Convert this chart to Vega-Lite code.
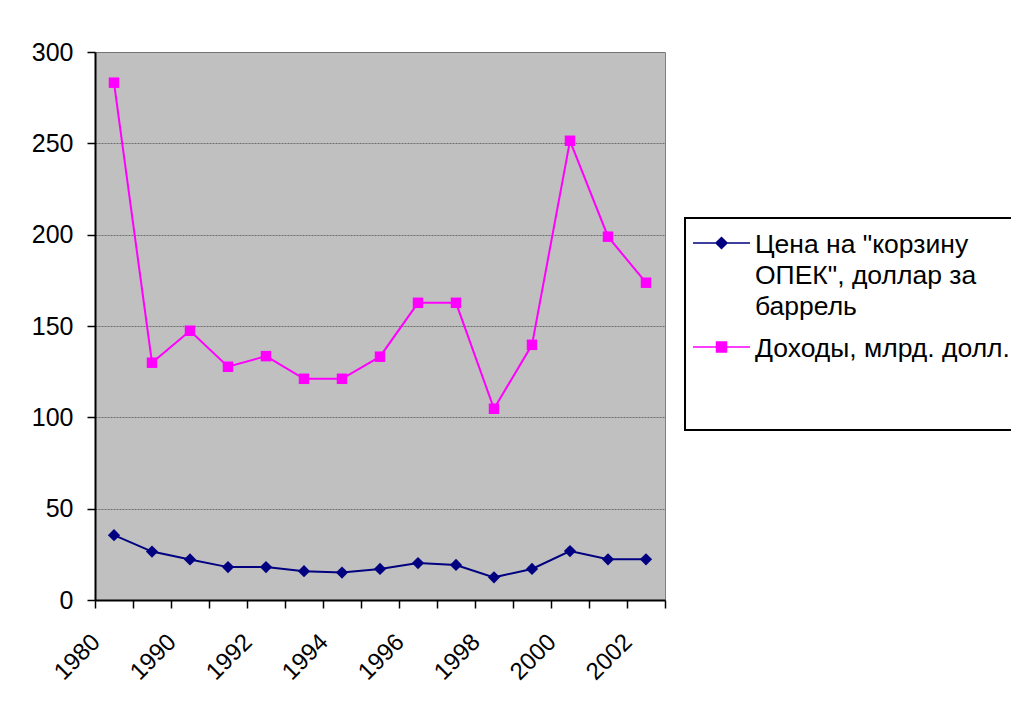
{
  "$schema": "https://vega.github.io/schema/vega-lite/v6.json",
  "width": 570,
  "height": 548,
  "padding": {"left": 95, "top": 52, "right": 346, "bottom": 105},
  "autosize": {"type": "none"},
  "background": "white",
  "config": {
    "font": "Liberation Sans",
    "view": {"fill": "#C0C0C0", "stroke": "#808080", "strokeWidth": 1}
  },
  "data": {
    "values": [
      {"year": "1980", "series": "Цена на \"корзину ОПЕК\", доллар за баррель", "value": 35.5},
      {"year": "1985", "series": "Цена на \"корзину ОПЕК\", доллар за баррель", "value": 26.5},
      {"year": "1990", "series": "Цена на \"корзину ОПЕК\", доллар за баррель", "value": 22.2},
      {"year": "1991", "series": "Цена на \"корзину ОПЕК\", доллар за баррель", "value": 18.0},
      {"year": "1992", "series": "Цена на \"корзину ОПЕК\", доллар за баррель", "value": 18.0},
      {"year": "1993", "series": "Цена на \"корзину ОПЕК\", доллар за баррель", "value": 15.8},
      {"year": "1994", "series": "Цена на \"корзину ОПЕК\", доллар за баррель", "value": 15.0},
      {"year": "1995", "series": "Цена на \"корзину ОПЕК\", доллар за баррель", "value": 17.0},
      {"year": "1996", "series": "Цена на \"корзину ОПЕК\", доллар за баррель", "value": 20.2},
      {"year": "1997", "series": "Цена на \"корзину ОПЕК\", доллар за баррель", "value": 19.2},
      {"year": "1998", "series": "Цена на \"корзину ОПЕК\", доллар за баррель", "value": 12.4},
      {"year": "1999", "series": "Цена на \"корзину ОПЕК\", доллар за баррель", "value": 17.0},
      {"year": "2000", "series": "Цена на \"корзину ОПЕК\", доллар за баррель", "value": 26.8},
      {"year": "2001", "series": "Цена на \"корзину ОПЕК\", доллар за баррель", "value": 22.3},
      {"year": "2002", "series": "Цена на \"корзину ОПЕК\", доллар за баррель", "value": 22.3},
      {"year": "1980", "series": "Доходы, млрд. долл.", "value": 283.2},
      {"year": "1985", "series": "Доходы, млрд. долл.", "value": 129.9},
      {"year": "1990", "series": "Доходы, млрд. долл.", "value": 147.4},
      {"year": "1991", "series": "Доходы, млрд. долл.", "value": 127.7},
      {"year": "1992", "series": "Доходы, млрд. долл.", "value": 133.5},
      {"year": "1993", "series": "Доходы, млрд. долл.", "value": 121.1},
      {"year": "1994", "series": "Доходы, млрд. долл.", "value": 121.1},
      {"year": "1995", "series": "Доходы, млрд. долл.", "value": 133.2},
      {"year": "1996", "series": "Доходы, млрд. долл.", "value": 162.7},
      {"year": "1997", "series": "Доходы, млрд. долл.", "value": 162.7},
      {"year": "1998", "series": "Доходы, млрд. долл.", "value": 104.7},
      {"year": "1999", "series": "Доходы, млрд. долл.", "value": 139.7},
      {"year": "2000", "series": "Доходы, млрд. долл.", "value": 251.4},
      {"year": "2001", "series": "Доходы, млрд. долл.", "value": 198.9},
      {"year": "2002", "series": "Доходы, млрд. долл.", "value": 173.7}
    ]
  },
  "encoding": {
    "x": {
      "field": "year",
      "type": "ordinal",
      "sort": null,
      "scale": {"type": "band", "paddingInner": 0, "paddingOuter": 0},
      "axis": {
        "title": null,
        "labelAngle": -45,
        "labelAlign": "right",
        "labelBaseline": "middle",
        "labelFontSize": 24,
        "labelColor": "black",
        "labelPadding": 30,
        "labelOffset": -18,
        "tickBand": "extent",
        "tickColor": "black",
        "tickSize": 8,
        "tickWidth": 1.5,
        "domainColor": "black",
        "domainWidth": 2,
        "grid": false,
        "labelExpr": "indexof(['1985','1991','1993','1995','1997','1999','2001'], datum.label) >= 0 ? '' : datum.label"
      }
    },
    "y": {
      "field": "value",
      "type": "quantitative",
      "scale": {"domain": [0, 300], "nice": false},
      "axis": {
        "title": null,
        "values": [0, 50, 100, 150, 200, 250, 300],
        "labelFontSize": 25,
        "labelColor": "black",
        "labelPadding": 14,
        "tickColor": "black",
        "tickSize": 8,
        "tickWidth": 1.5,
        "domainColor": "black",
        "domainWidth": 2,
        "gridColor": "#6e6e6e",
        "gridDash": [2, 1],
        "gridWidth": 1
      }
    },
    "color": {
      "field": "series",
      "type": "nominal",
      "scale": {
        "domain": ["Цена на \"корзину ОПЕК\", доллар за баррель", "Доходы, млрд. долл."],
        "range": ["#000080", "#FF00FF"]
      },
      "legend": {
        "orient": "none",
        "legendX": 590,
        "legendY": 166,
        "title": " ",
        "titleOrient": "bottom",
        "titleFontSize": 2,
        "titlePadding": 58,
        "strokeColor": "black",
        "fillColor": "white",
        "padding": 8,
        "labelFontSize": 26.5,
        "labelFont": "Liberation Sans",
        "labelColor": "black",
        "labelLimit": 0,
        "labelOffset": 5,
        "symbolSize": 400,
        "symbolStrokeWidth": 1.5,
        "rowPadding": 10,
        "labelExpr": "datum.label == 'Доходы, млрд. долл.' ? datum.label : ['Цена на \"корзину', 'ОПЕК\", доллар за', 'баррель']",
        "encode": {
          "symbols": {
            "update": {
              "shape": {"signal": "datum.value == 'Доходы, млрд. долл.' ? 'M-2.85,0H2.85M-0.5,-0.5H0.5V0.5H-0.5Z' : 'M-2.85,0H2.85M0,-0.55L0.55,0L0,0.55L-0.55,0Z'"},
              "fill": {"scale": "color", "field": "value"},
              "stroke": {"scale": "color", "field": "value"},
              "strokeWidth": {"value": 1.5},
              "x": {"value": 28.5},
              "y": {"value": 17}
            }
          },
          "labels": {
            "update": {
              "x": {"value": 62},
              "y": {"value": 17},
              "lineHeight": {"value": 31},
              "baseline": {"value": "top"},
              "dy": {"value": -11.5}
            }
          },
          "legend": {
            "update": {"strokeWidth": {"value": 2}}
          }
        }
      }
    }
  },
  "layer": [
    {"mark": {"type": "line", "strokeWidth": 2}},
    {
      "transform": [{"filter": "datum.series != 'Доходы, млрд. долл.'"}],
      "mark": {"type": "point", "filled": true, "opacity": 1, "size": 150, "shape": "diamond"}
    },
    {
      "transform": [{"filter": "datum.series == 'Доходы, млрд. долл.'"}],
      "mark": {"type": "point", "filled": true, "opacity": 1, "size": 110, "shape": "square"}
    }
  ]
}
